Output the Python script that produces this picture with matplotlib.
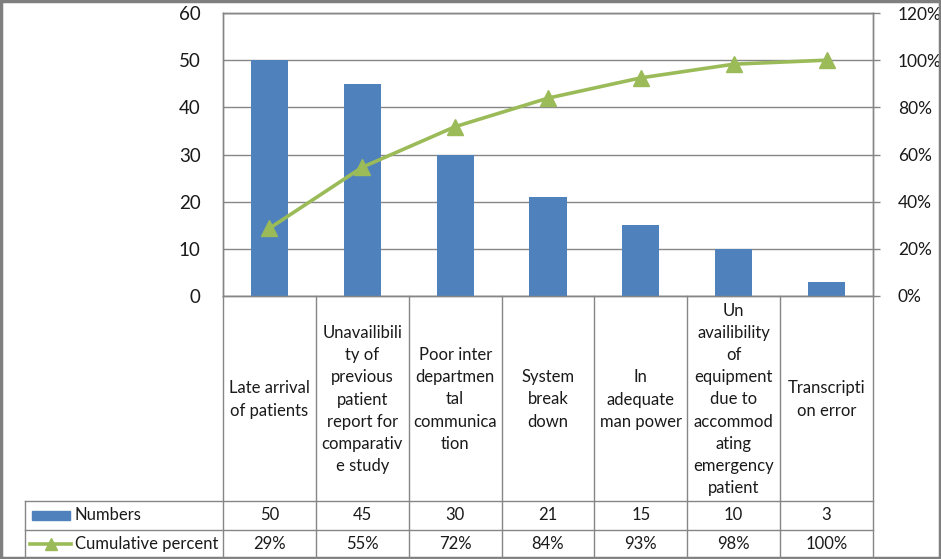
import matplotlib
matplotlib.use("Agg")
import matplotlib.pyplot as plt
from matplotlib.lines import Line2D
from matplotlib.patches import Rectangle
from matplotlib.transforms import blended_transform_factory
from matplotlib.ticker import FuncFormatter

plt.rcParams['font.family'] = ['Lato', 'DejaVu Sans']

# data
categories = [
    "Late arrival\nof patients",
    "Unavailibili\nty of\nprevious\npatient\nreport for\ncomparativ\ne study",
    "Poor inter\ndepartmen\ntal\ncommunica\ntion",
    "System\nbreak\ndown",
    "In\nadequate\nman power",
    "Un\navailibility\nof\nequipment\ndue to\naccommod\nating\nemergency\npatient",
    "Transcripti\non error",
]
numbers = [50, 45, 30, 21, 15, 10, 3]
cum_percent = [28.7, 54.6, 71.8, 83.9, 92.5, 98.3, 100.0]
cum_labels = ["29%", "55%", "72%", "84%", "93%", "98%", "100%"]

BLUE = "#4F81BD"
GREEN = "#9BBB59"
GRID = "#868686"
TXT = "#1a1a1a"

W, H = 941, 559
fig = plt.figure(figsize=(W / 100, H / 100), dpi=100)

def fy(py):
    return 1 - py / H

def fx(px):
    return px / W

x_left, x_right = 223, 873
y_top, y_bot = 13, 296
y_cat_bot, y_num_bot, y_cum_bot = 501, 530, 558
x_leg = 25
FS = 12

ax = fig.add_axes([fx(x_left), fy(y_bot), fx(x_right - x_left), (y_bot - y_top) / H])
ax2 = ax.twinx()

xs = list(range(len(numbers)))
ax.bar(xs, numbers, width=0.4, color=BLUE, zorder=3)
ax.set_xlim(-0.5, len(numbers) - 0.5)
ax.set_ylim(0, 60)
ax.set_yticks(range(0, 61, 10))
ax.set_xticks([])
ax.yaxis.grid(True, color=GRID, linewidth=1)
ax.set_axisbelow(True)
ax.tick_params(axis='y', length=0, pad=16, labelsize=13.5, labelcolor=TXT)

ax2.plot(xs, cum_percent, color=GREEN, linewidth=2.6, marker='^', markersize=11, zorder=4)
ax2.set_ylim(0, 120)
ax2.set_yticks(range(0, 121, 20))
ax2.yaxis.set_major_formatter(FuncFormatter(lambda v, p: "%d%%" % v))
ax2.tick_params(axis='y', length=5, width=1, color=GRID, pad=13, labelsize=12.5, labelcolor=TXT)

for a in (ax, ax2):
    for s in a.spines.values():
        s.set_color(GRID)
        s.set_linewidth(1)

# data table under the plot
tr = blended_transform_factory(ax.transData, fig.transFigure)
for i in range(len(numbers) + 1):
    fig.add_artist(Line2D([i - 0.5, i - 0.5], [fy(y_bot), fy(y_cum_bot)], transform=tr,
                          color=GRID, linewidth=1))
for yy in (y_cat_bot, y_num_bot, y_cum_bot):
    fig.add_artist(Line2D([fx(x_leg), fx(x_right)], [fy(yy), fy(yy)],
                          transform=fig.transFigure, color=GRID, linewidth=1))
fig.add_artist(Line2D([fx(x_leg), fx(x_leg)], [fy(y_cat_bot), fy(y_cum_bot)],
                      transform=fig.transFigure, color=GRID, linewidth=1))

for i, lab in enumerate(categories):
    fig.text(i, fy((y_bot + y_cat_bot) / 2 + 1), lab, transform=tr, ha='center', va='center',
             fontsize=FS, color=TXT, linespacing=1.48)
    fig.text(i, fy((y_cat_bot + y_num_bot) / 2), str(numbers[i]), transform=tr,
             ha='center', va='center', fontsize=FS, color=TXT)
    fig.text(i, fy((y_num_bot + y_cum_bot) / 2), cum_labels[i], transform=tr,
             ha='center', va='center', fontsize=FS, color=TXT)

# legend keys in the table
fig.add_artist(Rectangle((fx(32), fy(520)), fx(38), 9 / H, transform=fig.transFigure,
                         color=BLUE))
fig.text(fx(75), fy((y_cat_bot + y_num_bot) / 2), "Numbers", ha='left', va='center',
         fontsize=FS, color=TXT)
fig.add_artist(Line2D([fx(30), fx(71)], [fy(544), fy(544)], transform=fig.transFigure,
                      color=GREEN, linewidth=2.6))
fig.add_artist(Line2D([fx(50.5)], [fy(544)], transform=fig.transFigure,
                      color=GREEN, marker='^', markersize=8, linestyle='none'))
fig.text(fx(75), fy((y_num_bot + y_cum_bot) / 2), "Cumulative percent", ha='left',
         va='center', fontsize=FS, color=TXT)

# outer frame
fig.add_artist(Rectangle((0.001, 0.001), 0.998, 0.998, transform=fig.transFigure,
                         fill=False, edgecolor="#7f7f7f", linewidth=2.5))

fig.savefig("out.png", dpi=100)
